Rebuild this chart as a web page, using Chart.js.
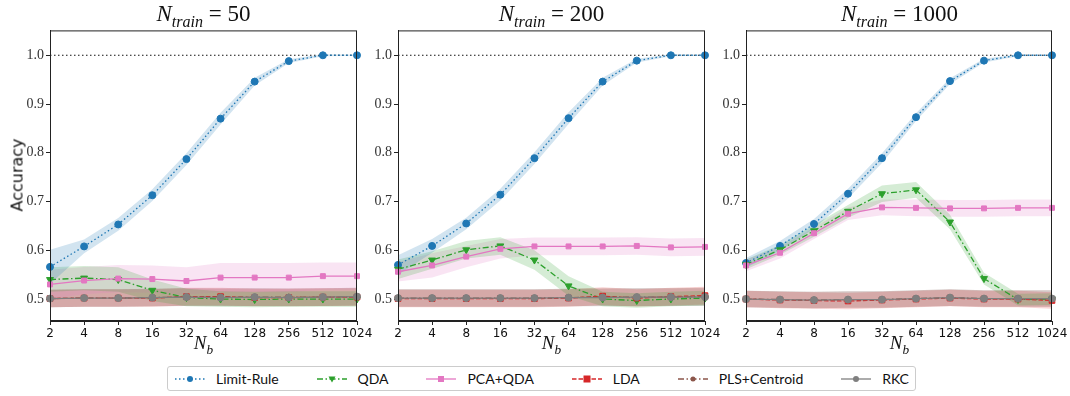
<!DOCTYPE html>
<html>
<head>
<meta charset="utf-8">
<script src="https://cdn.jsdelivr.net/npm/chart.js@4.4.0/dist/chart.umd.min.js"></script>
<style>
  body { margin: 0; background: #fff; width: 1070px; height: 396px; overflow: hidden; position: relative; }
  canvas.panel { position: absolute; top: 20px; }
  .titulo { position: absolute; top: 2px; width: 307px; text-align: center; font-family: 'Liberation Serif', serif; font-size: 23px; line-height: 24px; color: #111; white-space: nowrap; }
  .titulo i sub, .ejeX i sub { font-size: 70%; vertical-align: -0.35em; }
  .ejeX { position: absolute; top: 333px; width: 307px; text-align: center; font-family: 'Liberation Serif', serif; font-size: 19px; line-height: 20px; color: #111; }
  .ejeY { position: absolute; left: 17px; top: 175px; transform: translate(-50%, -50%) rotate(-90deg); font-family: 'DejaVu Sans', sans-serif; font-size: 16px; color: #111; }
  #leyenda { position: absolute; left: 167px; top: 366px; width: 749px; height: 25px; border: 1px solid #ccc; border-radius: 3px; display: flex; align-items: center; justify-content: space-between; padding: 0 6px; box-sizing: border-box; font-family: 'Lato', sans-serif; font-size: 14px; color: #111; }
  #leyenda .item { display: flex; align-items: center; gap: 10px; }
</style>
</head>
<body>
<canvas class="panel" id="g50" width="375" height="323" style="left:0"></canvas>
<canvas class="panel" id="g200" width="365" height="323" style="left:358px"></canvas>
<canvas class="panel" id="g1000" width="364" height="323" style="left:706px"></canvas>

<div class="titulo" style="left:50px"><i>N<sub>train</sub></i> = 50</div>
<div class="titulo" style="left:398px"><i>N<sub>train</sub></i> = 200</div>
<div class="titulo" style="left:746px"><i>N<sub>train</sub></i> = 1000</div>
<div class="ejeX" style="left:50px"><i>N<sub>b</sub></i></div>
<div class="ejeX" style="left:398px"><i>N<sub>b</sub></i></div>
<div class="ejeX" style="left:746px"><i>N<sub>b</sub></i></div>
<div class="ejeY">Accuracy</div>
<div id="leyenda"></div>

<script>
// Categorías del eje x (N_b)
const nb = ['2', '4', '8', '16', '32', '64', '128', '256', '512', '1024'];
const nombres = ['Limit-Rule', 'QDA', 'PCA+QDA', 'LDA', 'PLS+Centroid', 'RKC'];
const exactitudPerfecta = 1.0;

// N_train = 50
const limite50 = [0.566, 0.608, 0.653, 0.713, 0.787, 0.870, 0.946, 0.988, 1.0, 1.0];
const qda50 = [0.540, 0.543, 0.540, 0.518, 0.503, 0.500, 0.499, 0.500, 0.500, 0.500];
const pcaQda50 = [0.530, 0.538, 0.542, 0.541, 0.537, 0.544, 0.544, 0.544, 0.547, 0.547];
const lda50 = [0.501, 0.502, 0.502, 0.502, 0.505, 0.505, 0.503, 0.503, 0.504, 0.504];
const pls50 = [0.501, 0.502, 0.502, 0.503, 0.504, 0.504, 0.504, 0.504, 0.504, 0.505];
const rkc50 = [0.501, 0.502, 0.502, 0.503, 0.504, 0.503, 0.504, 0.503, 0.504, 0.505];
const limiteSd50 = [0.035, 0.014, 0.013, 0.012, 0.012, 0.012, 0.008, 0.004, 0.002, 0.001];
const qdaSd50 = [0.025, 0.025, 0.025, 0.022, 0.018, 0.016, 0.016, 0.016, 0.016, 0.016];
const pcaQdaSd50 = [0.030, 0.028, 0.028, 0.028, 0.028, 0.030, 0.030, 0.030, 0.028, 0.028];
const bajosSd50 = [0.018, 0.018, 0.018, 0.018, 0.018, 0.018, 0.018, 0.018, 0.018, 0.018];

// N_train = 200
const limite200 = [0.570, 0.609, 0.655, 0.714, 0.789, 0.871, 0.946, 0.989, 1.0, 1.0];
const qda200 = [0.561, 0.580, 0.601, 0.609, 0.580, 0.527, 0.500, 0.497, 0.500, 0.502];
const pcaQda200 = [0.556, 0.569, 0.587, 0.603, 0.608, 0.608, 0.608, 0.609, 0.606, 0.607];
const lda200 = [0.501, 0.501, 0.501, 0.501, 0.501, 0.502, 0.506, 0.502, 0.505, 0.507];
const pls200 = [0.502, 0.502, 0.502, 0.502, 0.502, 0.503, 0.504, 0.504, 0.504, 0.505];
const rkc200 = [0.502, 0.502, 0.502, 0.502, 0.502, 0.503, 0.503, 0.504, 0.504, 0.504];
const limiteSd200 = [0.020, 0.014, 0.012, 0.012, 0.012, 0.012, 0.008, 0.004, 0.002, 0.001];
const qdaSd200 = [0.020, 0.018, 0.018, 0.018, 0.020, 0.020, 0.015, 0.015, 0.015, 0.015];
const pcaQdaSd200 = [0.020, 0.025, 0.022, 0.020, 0.018, 0.018, 0.018, 0.018, 0.018, 0.018];
const bajosSd200 = [0.018, 0.018, 0.018, 0.018, 0.018, 0.018, 0.018, 0.018, 0.018, 0.018];

// N_train = 1000
const limite1000 = [0.574, 0.609, 0.654, 0.716, 0.789, 0.873, 0.947, 0.989, 1.0, 1.0];
const qda1000 = [0.571, 0.601, 0.640, 0.680, 0.716, 0.724, 0.658, 0.542, 0.499, 0.500];
const pcaQda1000 = [0.569, 0.595, 0.635, 0.675, 0.688, 0.687, 0.686, 0.686, 0.687, 0.687];
const lda1000 = [0.500, 0.498, 0.497, 0.496, 0.498, 0.500, 0.502, 0.500, 0.500, 0.497];
const pls1000 = [0.500, 0.499, 0.498, 0.499, 0.499, 0.501, 0.503, 0.501, 0.501, 0.501];
const rkc1000 = [0.500, 0.499, 0.498, 0.499, 0.499, 0.501, 0.503, 0.501, 0.501, 0.501];
const limiteSd1000 = [0.010, 0.010, 0.010, 0.010, 0.010, 0.008, 0.006, 0.004, 0.002, 0.001];
const qdaSd1000 = [0.010, 0.010, 0.012, 0.013, 0.017, 0.016, 0.015, 0.012, 0.012, 0.012];
const pcaQdaSd1000 = [0.012, 0.012, 0.012, 0.013, 0.016, 0.017, 0.017, 0.017, 0.017, 0.017];
const bajosSd1000 = [0.017, 0.017, 0.017, 0.017, 0.017, 0.017, 0.017, 0.017, 0.017, 0.017];

// Estilo de cada serie (colores tab10 de matplotlib)
const estilos = [
  { color: '31,119,180', dash: [1.5, 2.5], punto: 'circle', radio: 3.5, rot: 0 },
  { color: '44,160,44', dash: [6, 2.5, 1.5, 2.5], punto: 'triangle', radio: 4, rot: 180 },
  { color: '227,119,194', dash: [], punto: 'rect', radio: 3.5, rot: 0 },
  { color: '214,39,40', dash: [4.5, 2], punto: 'rect', radio: 4, rot: 0 },
  { color: '140,86,75', dash: [6, 2.5, 1.5, 2.5], punto: 'circle', radio: 3, rot: 0 },
  { color: '127,127,127', dash: [], punto: 'circle', radio: 3.5, rot: 0 },
];

// Arma los datasets: banda inferior, banda superior (relleno) y la línea
function armarDatasets(medias, desvios) {
  const sets = [];
  medias.forEach((serie, i) => {
    const e = estilos[i];
    const sd = desvios[i];
    sets.push({
      data: serie.map((v, k) => v - sd[k]),
      borderWidth: 0, pointRadius: 0, fill: false, order: 20 + i,
    });
    sets.push({
      data: serie.map((v, k) => v + sd[k]),
      borderWidth: 0, pointRadius: 0, fill: '-1', order: 20 + i,
      backgroundColor: 'rgba(' + e.color + ',0.2)',
    });
  });
  medias.forEach((serie, i) => {
    const e = estilos[i];
    sets.push({
      label: nombres[i],
      data: serie,
      borderColor: 'rgb(' + e.color + ')',
      borderWidth: 1.3,
      borderDash: e.dash,
      pointStyle: e.punto,
      pointRadius: e.radio,
      pointRotation: e.rot,
      pointBackgroundColor: 'rgb(' + e.color + ')',
      pointBorderColor: 'rgb(' + e.color + ')',
      pointBorderWidth: 1,
      fill: false,
      tension: 0,
      order: 5 - i,
    });
  });
  return sets;
}

// Marco completo y línea punteada en 1.0
const marco = {
  id: 'marco',
  beforeDatasetsDraw(chart) {
    const { ctx, chartArea: a, scales } = chart;
    const y = scales.y.getPixelForValue(exactitudPerfecta);
    ctx.save();
    ctx.strokeStyle = '#111';
    ctx.lineWidth = 1.2;
    ctx.setLineDash([1.5, 2.5]);
    ctx.beginPath();
    ctx.moveTo(a.left, y);
    ctx.lineTo(a.right, y);
    ctx.stroke();
    ctx.restore();
  },
  afterDraw(chart) {
    const { ctx, chartArea: a } = chart;
    ctx.save();
    ctx.strokeStyle = '#222';
    ctx.lineWidth = 1;
    ctx.strokeRect(a.left + 0.5, a.top + 0.5, a.right - a.left - 1, a.bottom - a.top - 1);
    ctx.restore();
  },
};

function crearGrafico(id, medias, desvios, padIzq) {
  const ctx = document.getElementById(id).getContext('2d');
  return new Chart(ctx, {
    type: 'line',
    data: { labels: nb, datasets: armarDatasets(medias, desvios) },
    options: {
      responsive: false,
      animation: false,
      layout: { padding: { left: padIzq, right: 18, top: 9, bottom: 0 } },
      plugins: { legend: { display: false }, tooltip: { enabled: false } },
      scales: {
        x: {
          type: 'category',
          offset: false,
          grid: { display: true, drawOnChartArea: false, drawTicks: true, tickLength: 4, color: '#222' },
          border: { display: true, color: '#222' },
          ticks: { font: { family: 'DejaVu Sans', size: 12 }, color: '#111', maxRotation: 0, autoSkip: false, padding: 2 },
          afterFit(scale) { scale.height = 22; },
        },
        y: {
          min: 0.455,
          max: 1.051,
          grid: { display: true, drawOnChartArea: false, drawTicks: true, tickLength: 4, color: '#222' },
          border: { display: true, color: '#222' },
          ticks: {
            stepSize: 0.1,
            includeBounds: false,
            font: { family: 'Liberation Serif', size: 14 },
            color: '#333',
            padding: 2,
            callback: v => v.toFixed(1),
          },
          afterFit(scale) { scale.width = 40; },
        },
      },
    },
    plugins: [marco],
  });
}

// Leyenda inferior con muestras de línea + marcador
function armarLeyenda() {
  const cont = document.getElementById('leyenda');
  nombres.forEach((nombre, i) => {
    const e = estilos[i];
    const item = document.createElement('div');
    item.className = 'item';
    const c = document.createElement('canvas');
    c.width = 32; c.height = 12;
    const g = c.getContext('2d');
    g.strokeStyle = 'rgb(' + e.color + ')';
    g.fillStyle = 'rgb(' + e.color + ')';
    g.lineWidth = 1.3;
    g.setLineDash(e.dash);
    g.beginPath(); g.moveTo(1, 6); g.lineTo(31, 6); g.stroke();
    g.setLineDash([]);
    const r = e.radio - 0.5;
    if (e.punto === 'circle') {
      g.beginPath(); g.arc(16, 6, r, 0, Math.PI * 2); g.fill();
    } else if (e.punto === 'rect') {
      g.fillRect(16 - r, 6 - r, 2 * r, 2 * r);
    } else {
      g.beginPath(); g.moveTo(16 - r, 6 - r * 0.7); g.lineTo(16 + r, 6 - r * 0.7); g.lineTo(16, 6 + r); g.closePath(); g.fill();
    }
    const t = document.createElement('span');
    t.textContent = nombre;
    item.appendChild(c);
    item.appendChild(t);
    cont.appendChild(item);
  });
}

window.onload = () => {
  crearGrafico('g50', [limite50, qda50, pcaQda50, lda50, pls50, rkc50],
    [limiteSd50, qdaSd50, pcaQdaSd50, bajosSd50, bajosSd50, bajosSd50], 10);
  crearGrafico('g200', [limite200, qda200, pcaQda200, lda200, pls200, rkc200],
    [limiteSd200, qdaSd200, pcaQdaSd200, bajosSd200, bajosSd200, bajosSd200], 0);
  crearGrafico('g1000', [limite1000, qda1000, pcaQda1000, lda1000, pls1000, rkc1000],
    [limiteSd1000, qdaSd1000, pcaQdaSd1000, bajosSd1000, bajosSd1000, bajosSd1000], 0);
  armarLeyenda();
};
</script>
</body>
</html>
